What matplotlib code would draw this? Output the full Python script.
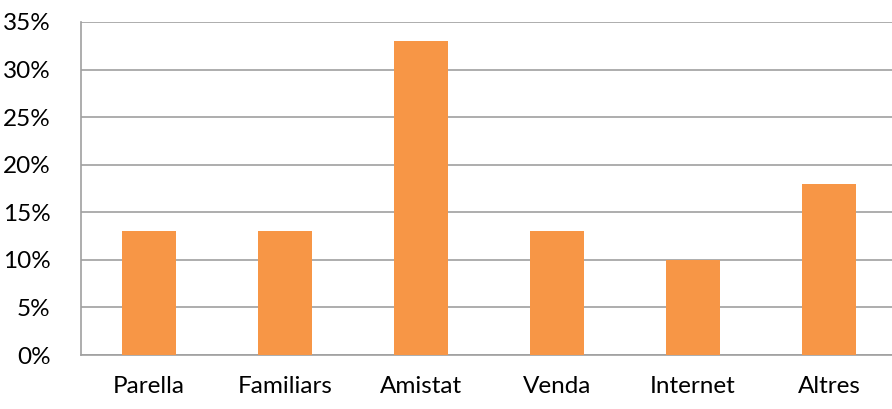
import matplotlib
matplotlib.use("Agg")
import matplotlib.pyplot as plt
from matplotlib.ticker import FuncFormatter

categories = ["Parella", "Familiars", "Amistat", "Venda", "Internet", "Altres"]
values = [13, 13, 33, 13, 10, 18]
yticks = [0, 5, 10, 15, 20, 25, 30, 35]

plt.rcParams['font.family'] = ['Lato', 'DejaVu Sans']

fig = plt.figure(figsize=(8.92, 4.09), dpi=100)
W, H = 892, 409
left, right, top, bottom = 81, 897, 22, 355
ax = fig.add_axes([left / W, 1 - bottom / H, (right - left) / W, (bottom - top) / H])

x = list(range(len(categories)))
ax.bar(x, values, width=0.4, color="#F79646", zorder=3)
ax.set_xlim(-0.5, len(categories) - 0.5)
ax.set_ylim(0, 35)
ax.set_yticks(yticks)
ax.yaxis.set_major_formatter(FuncFormatter(lambda v, p: f"{int(v)}%"))
ax.set_xticks(x)
ax.set_xticklabels(categories)
ax.grid(axis="y", color="#A0A0A0", linewidth=1.2, zorder=0)
ax.set_axisbelow(True)
for s in ["top", "right"]:
    ax.spines[s].set_visible(False)
for s in ["left", "bottom"]:
    ax.spines[s].set_color("#A0A0A0")
    ax.spines[s].set_linewidth(1.2)
ax.tick_params(axis="both", length=0, labelsize=17.5, colors="#000000")
ax.tick_params(axis="x", pad=15)
ax.tick_params(axis="y", pad=22)

fig.savefig("out.png", dpi=100)
